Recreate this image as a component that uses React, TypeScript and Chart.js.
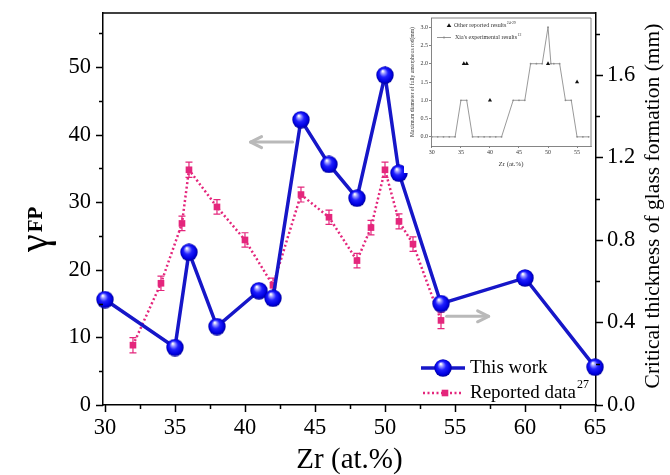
import React, { useEffect, useRef } from 'react';
import { Chart, registerables } from 'chart.js';
Chart.register(...registerables);

// ---------- main chart data ----------
const xTicks = [30, 35, 40, 45, 50, 55, 60, 65];
const yTicks = [0, 10, 20, 30, 40, 50];
const y1Ticks = [0, 0.4, 0.8, 1.2, 1.6];

const zrThisWork = [30, 35, 36, 38, 41, 42, 44, 46, 48, 50, 51, 54, 60, 65];
const gammaThisWork = [15.6, 8.5, 22.6, 11.6, 16.9, 15.8, 42.2, 35.6, 30.6, 48.8, 34.3, 15.0, 18.8, 5.6];

const zrReported = [32, 34, 35.5, 36, 38, 40, 42, 44, 46, 48, 49, 50, 51, 52, 54];
const thicknessReported = [0.29, 0.59, 0.88, 1.14, 0.96, 0.8, 0.58, 1.02, 0.91, 0.7, 0.86, 1.14, 0.89, 0.78, 0.41];
const thicknessError = [0.037, 0.035, 0.035, 0.037, 0.035, 0.035, 0.035, 0.036, 0.035, 0.035, 0.035, 0.037, 0.036, 0.035, 0.04];

// ---------- inset data ----------
const insetXTicks = [30, 35, 40, 45, 50, 55];
const insetYTicks = [0, 0.5, 1, 1.5, 2, 2.5, 3];
const zrXia = [30, 31, 32, 33, 34, 35, 36, 37, 38, 39, 40, 41, 42, 44, 45, 46, 47, 48, 49, 50, 50.5, 51, 52, 53, 54, 55, 56, 57];
const diameterXia = [0, 0, 0, 0, 0, 1, 1, 0, 0, 0, 0, 0, 0, 1, 1, 1, 2, 2, 2, 3, 2, 2, 2, 1, 1, 0, 0, 0];
const zrOther = [35.5, 36, 40, 50, 55];
const diameterOther = [2, 2, 1, 2, 1.5];

const SERIF = '"Liberation Serif", "Times New Roman", serif';
const BLUE = '#1616c8';
const PINK = '#e4267c';
const ARROW = '#b9b9b9';

function makeBall(d: number): HTMLCanvasElement {
  const c = document.createElement('canvas');
  c.width = d;
  c.height = d;
  const g = c.getContext('2d')!;
  const r = d / 2;
  const grad = g.createRadialGradient(r * 0.75, r * 0.55, r * 0.05, r, r, r);
  grad.addColorStop(0, '#ffffff');
  grad.addColorStop(0.18, '#9a9aff');
  grad.addColorStop(0.45, '#2020ff');
  grad.addColorStop(0.8, '#0000e0');
  grad.addColorStop(1, '#000090');
  g.fillStyle = grad;
  g.beginPath();
  g.arc(r, r, r - 0.3, 0, Math.PI * 2);
  g.fill();
  return c;
}

function arrow(ctx: CanvasRenderingContext2D, x1: number, y1: number, x2: number, y2: number) {
  const dir = Math.sign(x2 - x1);
  ctx.beginPath();
  ctx.moveTo(x1, y1);
  ctx.lineTo(x2, y2);
  ctx.stroke();
  ctx.beginPath();
  ctx.moveTo(x2 - dir * 11, y2 - 5.5);
  ctx.lineTo(x2, y2);
  ctx.lineTo(x2 - dir * 11, y2 + 5.5);
  ctx.stroke();
}

export default function App() {
  const mainRef = useRef<HTMLCanvasElement>(null);
  const insetRef = useRef<HTMLCanvasElement>(null);

  useEffect(() => {
    const ball = makeBall(18);
    const legendBall = makeBall(18);

    const decor = {
      id: 'decor',
      beforeDatasetsDraw(chart: any) {
        const { ctx, scales } = chart;
        const xs = scales.x;
        const ys = scales.y1;
        ctx.save();
        // error bars
        ctx.strokeStyle = PINK;
        ctx.lineWidth = 1.2;
        zrReported.forEach((zr, i) => {
          const px = xs.getPixelForValue(zr);
          const t = ys.getPixelForValue(thicknessReported[i] + thicknessError[i]);
          const b = ys.getPixelForValue(thicknessReported[i] - thicknessError[i]);
          ctx.beginPath();
          ctx.moveTo(px, t);
          ctx.lineTo(px, b);
          ctx.moveTo(px - 3.5, t);
          ctx.lineTo(px + 3.5, t);
          ctx.moveTo(px - 3.5, b);
          ctx.lineTo(px + 3.5, b);
          ctx.stroke();
        });
        // arrows
        ctx.strokeStyle = ARROW;
        ctx.lineWidth = 3;
        ctx.lineCap = 'round';
        ctx.lineJoin = 'round';
        const ay = scales.y.getPixelForValue(38.9);
        arrow(ctx, xs.getPixelForValue(43.4), ay, xs.getPixelForValue(40.4), ay);
        const by = ys.getPixelForValue(0.43);
        arrow(ctx, xs.getPixelForValue(54.4), by, xs.getPixelForValue(57.4), by);
        ctx.restore();
      },
      afterDraw(chart: any) {
        const { ctx, scales, chartArea } = chart;
        const { left, right, top, bottom } = chartArea;
        ctx.save();
        ctx.strokeStyle = '#000';
        ctx.lineWidth = 1.5;
        // top frame
        ctx.beginPath();
        ctx.moveTo(left, top);
        ctx.lineTo(right, top);
        ctx.stroke();
        // x ticks
        ctx.beginPath();
        for (let v = 30; v <= 65.001; v += 2.5) {
          const px = Math.round(scales.x.getPixelForValue(v)) + 0.5;
          const major = Math.abs(v / 5 - Math.round(v / 5)) < 1e-6;
          ctx.moveTo(px, bottom);
          ctx.lineTo(px, bottom + (major ? 7 : 4));
        }
        // left ticks
        for (let v = 0; v <= 55.001; v += 5) {
          const py = Math.round(scales.y.getPixelForValue(v)) + 0.5;
          const major = v % 10 === 0;
          ctx.moveTo(left, py);
          ctx.lineTo(left - (major ? 7 : 4), py);
        }
        // right ticks
        for (let k = 0; k <= 9; k++) {
          const v = k * 0.2;
          const py = Math.round(scales.y1.getPixelForValue(v)) + 0.5;
          const major = k % 2 === 0;
          ctx.moveTo(right, py);
          ctx.lineTo(right + (major ? 7 : 4), py);
        }
        ctx.stroke();

        ctx.fillStyle = '#000';
        // x title
        ctx.font = `29px ${SERIF}`;
        ctx.textAlign = 'center';
        ctx.textBaseline = 'alphabetic';
        ctx.fillText('Zr (at.%)', (left + right) / 2, 468);

        // right title
        ctx.save();
        ctx.translate(659, (top + bottom) / 2 - 3);
        ctx.rotate(-Math.PI / 2);
        ctx.font = `21.5px ${SERIF}`;
        ctx.textAlign = 'center';
        ctx.fillText('Critical thickness of glass formation (mm)', 0, 0);
        ctx.restore();

        // left title gamma^FP
        ctx.save();
        ctx.translate(47, 252);
        ctx.rotate(-Math.PI / 2);
        ctx.textAlign = 'left';
        ctx.font = `40px ${SERIF}`;
        ctx.fillText('γ', 0, 0);
        const gw = ctx.measureText('γ').width;
        ctx.font = `bold 21px ${SERIF}`;
        ctx.fillText('FP', gw + 2, -5);
        ctx.restore();

        // legend
        const r1 = 368;
        const r2 = 393;
        ctx.strokeStyle = BLUE;
        ctx.lineWidth = 3.5;
        ctx.beginPath();
        ctx.moveTo(421, r1);
        ctx.lineTo(465, r1);
        ctx.stroke();
        ctx.drawImage(legendBall, 443 - 9, r1 - 9);
        ctx.strokeStyle = PINK;
        ctx.lineWidth = 2.5;
        ctx.setLineDash([2, 2.5]);
        ctx.beginPath();
        ctx.moveTo(423, r2);
        ctx.lineTo(463, r2);
        ctx.stroke();
        ctx.setLineDash([]);
        ctx.fillStyle = PINK;
        ctx.fillRect(445 - 3.3, r2 - 3.3, 6.6, 6.6);
        ctx.fillStyle = '#000';
        ctx.font = `19px ${SERIF}`;
        ctx.textAlign = 'left';
        ctx.textBaseline = 'middle';
        ctx.fillText('This work', 470, r1);
        ctx.fillText('Reported data', 470, r2);
        const rw = ctx.measureText('Reported data').width;
        ctx.font = `12px ${SERIF}`;
        ctx.fillText('27', 470 + rw + 1, r2 - 8);
        ctx.restore();
      },
    };

    const tickFont = { family: SERIF, size: 22.5 };

    const main = new Chart(mainRef.current!, {
      type: 'line',
      data: {
        datasets: [
          {
            label: 'This work',
            data: zrThisWork.map((x, i) => ({ x, y: gammaThisWork[i] })),
            borderColor: BLUE,
            borderWidth: 3.5,
            pointStyle: ball as any,
            pointRadius: 9,
            pointBorderWidth: 0,
            yAxisID: 'y',
            clip: false as any,
            tension: 0,
          },
          {
            label: 'Reported data',
            data: zrReported.map((x, i) => ({ x, y: thicknessReported[i] })),
            borderColor: PINK,
            borderWidth: 2.5,
            borderDash: [2, 2.5],
            pointStyle: 'rect',
            pointRadius: 4.7,
            pointBackgroundColor: PINK,
            pointBorderColor: PINK,
            pointBorderWidth: 0,
            yAxisID: 'y1',
            clip: false as any,
            tension: 0,
          },
        ],
      },
      options: {
        responsive: false,
        animation: false,
        layout: { padding: { top: 13, left: 0, right: 0, bottom: 0 } },
        plugins: { legend: { display: false }, tooltip: { enabled: false } },
        scales: {
          x: {
            type: 'linear',
            min: 29.86,
            max: 65.07,
            afterBuildTicks: (s: any) => {
              s.ticks = xTicks.map((v) => ({ value: v }));
            },
            afterFit: (s: any) => {
              s.height = 70;
              s.paddingLeft = 0;
              s.paddingRight = 0;
            },
            grid: { display: false, drawTicks: false },
            border: { display: true, color: '#000', width: 1.5 },
            ticks: { font: tickFont, color: '#000', padding: 10, autoSkip: false, maxRotation: 0, callback: (v: any) => String(v) },
          },
          y: {
            type: 'linear',
            position: 'left',
            min: 0,
            max: 58,
            afterBuildTicks: (s: any) => {
              s.ticks = yTicks.map((v) => ({ value: v }));
            },
            afterFit: (s: any) => {
              s.width = 103;
              s.paddingTop = 0;
              s.paddingBottom = 0;
            },
            grid: { display: false, drawTicks: false },
            border: { display: true, color: '#000', width: 1.5 },
            ticks: { font: tickFont, color: '#000', padding: 12, callback: (v: any) => String(v) },
          },
          y1: {
            type: 'linear',
            position: 'right',
            min: 0,
            max: 1.9,
            afterBuildTicks: (s: any) => {
              s.ticks = y1Ticks.map((v) => ({ value: v }));
            },
            afterFit: (s: any) => {
              s.width = 74;
              s.paddingTop = 0;
              s.paddingBottom = 0;
            },
            grid: { display: false, drawTicks: false },
            border: { display: true, color: '#000', width: 1.5 },
            ticks: { font: tickFont, color: '#000', padding: 11, callback: (v: any) => Number(v).toFixed(1) },
          },
        },
      },
      plugins: [decor],
    } as any);

    // ---------- inset ----------
    const insetDecor = {
      id: 'insetDecor',
      afterDraw(chart: any) {
        const { ctx, chartArea } = chart;
        const { left, right, top, bottom } = chartArea;
        ctx.save();
        ctx.strokeStyle = '#666';
        ctx.lineWidth = 0.8;
        ctx.beginPath();
        ctx.moveTo(left, top);
        ctx.lineTo(right, top);
        ctx.lineTo(right, bottom);
        ctx.stroke();
        ctx.fillStyle = '#333';
        // y title
        ctx.save();
        ctx.translate(9, (top + bottom) / 2);
        ctx.rotate(-Math.PI / 2);
        ctx.font = `5.6px ${SERIF}`;
        ctx.textAlign = 'center';
        ctx.textBaseline = 'middle';
        ctx.fillText('Maximum diameter of fully amorphous rod(mm)', 0, 0);
        ctx.restore();
        // x title
        ctx.font = `6.8px ${SERIF}`;
        ctx.textAlign = 'center';
        ctx.textBaseline = 'middle';
        ctx.fillText('Zr (at.%)', (left + right) / 2, 150);
        // legend
        const l1 = 11.5;
        const l2 = 23.5;
        ctx.fillStyle = '#111';
        ctx.beginPath();
        ctx.moveTo(45, l1 - 2.3);
        ctx.lineTo(47.3, l1 + 1.6);
        ctx.lineTo(42.7, l1 + 1.6);
        ctx.closePath();
        ctx.fill();
        ctx.strokeStyle = '#8a8a8a';
        ctx.lineWidth = 0.9;
        ctx.beginPath();
        ctx.moveTo(33, l2);
        ctx.lineTo(47, l2);
        ctx.stroke();
        ctx.fillStyle = '#8a8a8a';
        ctx.beginPath();
        ctx.arc(40, l2, 1, 0, Math.PI * 2);
        ctx.fill();
        ctx.fillStyle = '#333';
        ctx.font = `6px ${SERIF}`;
        ctx.textAlign = 'left';
        ctx.fillText('Other reported results', 50, l1);
        const w1 = ctx.measureText('Other reported results').width;
        ctx.fillText("Xia's experimental results", 51, l2);
        const w2 = ctx.measureText("Xia's experimental results").width;
        ctx.font = `3.8px ${SERIF}`;
        ctx.fillText('24-29', 50 + w1 + 0.5, l1 - 2.5);
        ctx.fillText('12', 51 + w2 + 0.5, l2 - 2.5);
        ctx.restore();
      },
    };

    const insetFont = { family: SERIF, size: 6 };
    const inset = new Chart(insetRef.current!, {
      type: 'line',
      data: {
        datasets: [
          {
            label: 'Other reported results',
            data: zrOther.map((x, i) => ({ x, y: diameterOther[i] })),
            showLine: false,
            pointStyle: 'triangle',
            pointRadius: 2.4,
            pointBackgroundColor: '#111',
            pointBorderColor: '#111',
            pointBorderWidth: 0,
          },
          {
            label: "Xia's experimental results",
            data: zrXia.map((x, i) => ({ x, y: diameterXia[i] })),
            borderColor: '#8d8d8d',
            borderWidth: 0.9,
            pointStyle: 'circle',
            pointRadius: 0.9,
            pointBackgroundColor: '#8d8d8d',
            pointBorderWidth: 0,
            tension: 0,
          },
        ],
      },
      options: {
        responsive: false,
        animation: false,
        layout: { padding: { top: 3, right: 2, left: 0, bottom: 0 } },
        plugins: { legend: { display: false }, tooltip: { enabled: false } },
        scales: {
          x: {
            type: 'linear',
            min: 29.85,
            max: 57.4,
            afterBuildTicks: (s: any) => {
              s.ticks = insetXTicks.map((v) => ({ value: v }));
            },
            afterFit: (s: any) => {
              s.height = 27;
              s.paddingLeft = 0;
              s.paddingRight = 0;
            },
            grid: { display: true, drawOnChartArea: false, drawTicks: true, tickLength: 2, color: '#666', lineWidth: 0.8 },
            border: { display: true, color: '#666', width: 0.8 },
            ticks: { font: insetFont, color: '#333', padding: 1, autoSkip: false, maxRotation: 0, callback: (v: any) => String(v) },
          },
          y: {
            type: 'linear',
            min: -0.25,
            max: 3.25,
            afterBuildTicks: (s: any) => {
              s.ticks = insetYTicks.map((v) => ({ value: v }));
            },
            afterFit: (s: any) => {
              s.width = 27;
              s.paddingTop = 0;
              s.paddingBottom = 0;
            },
            grid: { display: true, drawOnChartArea: false, drawTicks: true, tickLength: 2, color: '#666', lineWidth: 0.8 },
            border: { display: true, color: '#666', width: 0.8 },
            ticks: { font: insetFont, color: '#333', padding: 1, autoSkip: false, callback: (v: any) => Number(v).toFixed(1) },
          },
        },
      },
      plugins: [insetDecor],
    } as any);

    return () => {
      main.destroy();
      inset.destroy();
    };
  }, []);

  return (
    <div style={{ position: 'fixed', left: 0, top: 0, width: 670, height: 475, background: '#fff' }}>
      <canvas ref={mainRef} width={670} height={475} style={{ position: 'absolute', left: 0, top: 0 }} />
      <canvas
        ref={insetRef}
        width={191}
        height={159}
        style={{ position: 'absolute', left: 404, top: 14, background: '#fff' }}
      />
    </div>
  );
}
